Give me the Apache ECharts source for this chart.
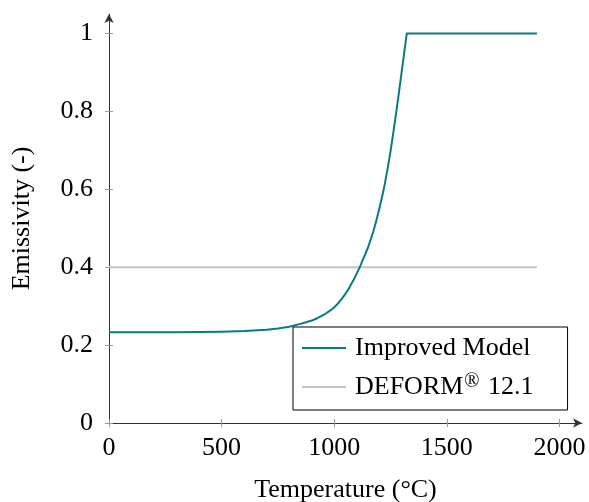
<!DOCTYPE html>
<html>
<head>
<meta charset="utf-8">
<script src="https://cdn.jsdelivr.net/npm/echarts@6/dist/echarts.min.js"></script>
<style>
  html, body { margin: 0; padding: 0; background: #fff; }
  #chart { width: 589px; height: 502px; }
</style>
</head>
<body>
<div id="chart"></div>
<script>
// Temperature (°C) and emissivity of the improved model
const temperature = [0, 300, 500, 600, 700, 750, 800, 850, 875, 900, 925,
  950, 962.5, 975, 987.5, 1000, 1012.5, 1025, 1037.5, 1050, 1062.5, 1075, 1087.5,
  1100, 1112.5, 1125, 1137.5, 1150, 1162.5, 1175, 1187.5, 1200, 1212.5, 1225, 1237.5,
  1250, 1262.5, 1275, 1287.5, 1300, 1311, 1322, 1900];
const emissivityImproved = [0.233, 0.233, 0.2345, 0.236, 0.2395, 0.2425, 0.247, 0.2545, 0.2585, 0.263, 0.269,
  0.277, 0.281, 0.286, 0.291, 0.297, 0.304, 0.313, 0.322, 0.332, 0.343, 0.356, 0.369,
  0.384, 0.399, 0.416, 0.433, 0.451, 0.472, 0.495, 0.521, 0.55, 0.581, 0.615, 0.655,
  0.698, 0.746, 0.797, 0.85, 0.904, 0.952, 1.0, 1.0];
// Constant emissivity used by DEFORM 12.1
const deformRange = [0, 1900];
const emissivityDeform = [0.4, 0.4];

const xTicks = [0, 500, 1000, 1500, 2000];
const yTicks = [0, 0.2, 0.4, 0.6, 0.8, 1];

const serif = '"Liberation Serif", "DejaVu Serif", serif';
const teal = '#0a7a80';
const grey = '#c2c2c2';

const chart = echarts.init(document.getElementById('chart'), null, { renderer: 'canvas' });

const labelStyle = { fontFamily: serif, fontSize: 26, color: '#000' };

chart.setOption({
  animation: false,
  grid: { left: 109, right: 7, top: 14, bottom: 79, containLabel: false, outerBoundsMode: 'none' },
  xAxis: [{
    type: 'value', min: 0, max: 2100,
    name: 'Temperature (°C)', nameLocation: 'middle', nameGap: 54,
    nameTextStyle: labelStyle,
    axisLine: { show: true, lineStyle: { color: '#333', width: 1 }, symbol: ['none', 'arrow'], symbolSize: [7, 9], symbolOffset: [0, 0] },
    axisTick: { show: true, inside: false, length: 4, lineStyle: { color: '#999' }, customValues: xTicks },
    axisLabel: { ...labelStyle, margin: 12, customValues: xTicks, formatter: v => String(v) },
    splitLine: { show: false }
  }, {
    type: 'value', min: 0, max: 2100, position: 'bottom',
    axisLine: { show: false },
    axisTick: { show: true, inside: true, length: 4, lineStyle: { color: '#999' }, customValues: xTicks },
    axisLabel: { show: false },
    splitLine: { show: false }
  }],
  yAxis: [{
    type: 'value', min: 0, max: 1.05,
    name: 'Emissivity (-)', nameLocation: 'middle', nameGap: 74, nameRotate: 90,
    nameTextStyle: labelStyle,
    axisLine: { show: true, lineStyle: { color: '#333', width: 1 }, symbol: ['none', 'arrow'], symbolSize: [7, 9], symbolOffset: [0, 0] },
    axisTick: { show: true, inside: false, length: 4, lineStyle: { color: '#999' }, customValues: yTicks },
    axisLabel: { ...labelStyle, margin: 16, customValues: yTicks, formatter: v => String(+v.toFixed(2)) },
    splitLine: { show: false }
  }, {
    type: 'value', min: 0, max: 1.05, position: 'left',
    axisLine: { show: false },
    axisTick: { show: true, inside: true, length: 4, lineStyle: { color: '#999' }, customValues: yTicks },
    axisLabel: { show: false },
    splitLine: { show: false }
  }],
  legend: {
    orient: 'vertical', left: 293, top: 327,
    padding: [8, 34, 10, 9],
    itemGap: 11,
    itemWidth: 44, itemHeight: 14,
    borderColor: '#000', borderWidth: 1, borderRadius: 0,
    backgroundColor: '#fff',
    icon: 'path://M0,5 L44,5 L44,7 L0,7 Z',
    textStyle: {
      fontFamily: serif, fontSize: 26, color: '#000', padding: [0, 0, 0, 4],
      rich: { sup: { fontFamily: serif, fontSize: 20, verticalAlign: 'top', padding: [0, 2, 10, 1], color: '#000' } }
    },
    formatter: name => name === 'DEFORM 12.1' ? 'DEFORM{sup|®} 12.1' : name,
    data: ['Improved Model', 'DEFORM 12.1']
  },
  series: [{
    name: 'Improved Model', type: 'line', xAxisIndex: 0, yAxisIndex: 0,
    data: temperature.map((t, i) => [t, emissivityImproved[i]]),
    smooth: false, showSymbol: false, symbol: 'none',
    lineStyle: { color: teal, width: 2, join: 'round' }, itemStyle: { color: teal }, z: 3
  }, {
    name: 'DEFORM 12.1', type: 'line', xAxisIndex: 0, yAxisIndex: 0,
    data: deformRange.map((t, i) => [t, emissivityDeform[i]]),
    showSymbol: false, symbol: 'none',
    lineStyle: { color: grey, width: 2 }, itemStyle: { color: grey }, z: 2
  }]
});
</script>
</body>
</html>
